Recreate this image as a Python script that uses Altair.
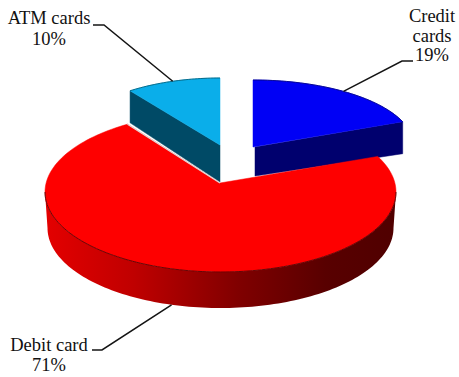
import math
import altair as alt
import pandas as pd

# Payment card shares, clockwise from twelve o'clock
categories = ["Credit cards", "Debit card", "ATM cards"]
shares = [19, 71, 10]
label_lines = [["Credit", "cards"], ["Debit card"], ["ATM cards"]]

# Drawing settings for each exploded slice: ellipse of the top face, apex, wall depths
SLICES = {
    "Credit cards": dict(cx=253, cy=146, a=161, b=66, apex=(253, 147), depth=32, apex_depth=29,
                         top="#0000f5", wall="#00006e", edge="#00008a"),
    "Debit card": dict(cx=220.5, cy=192, a=175.5, b=80, apex=(220, 183), depth=36, apex_depth=36,
                       top="#fe0000", wall="#800000", edge="#400000"),
    "ATM cards": dict(cx=220, cy=145, a=153, b=67, apex=(220, 145), depth=32, apex_depth=37,
                      top="#0aaeea", wall="#004a66", edge="#00627f"),
}
# Red wall shading, left to right along the front of the pie
WALL_STOPS = [(0.0, "#e40000"), (0.25, "#c00000"), (0.55, "#800000"), (0.8, "#580000"), (1.0, "#500000")]
# Label block placement: centre x, first baseline, line height, leader elbow points
LABEL_POS = {
    "Credit cards": dict(x=432, y=22, step=19.5, elbow=[(413, 61), (402, 61)]),
    "Debit card": dict(x=49, y=351, step=19.5, elbow=[(92, 350), (102, 350)]),
    "ATM cards": dict(x=49, y=24, step=21, elbow=[(93, 25), (104, 25)]),
}
FONT = "Liberation Serif"
W, H = 459, 377


def warp(theta):
    """Nudge far-side rim angles of the big slice, as the tilted view does."""
    r = math.radians(theta)
    if math.sin(r) <= 0:
        return theta
    return theta + (7 if math.cos(r) > 0 else 4.2) * math.sin(2 * r)


def rim(s, theta, warped=False, depth=0.0, shrink=0.0):
    t = math.radians(warp(theta) if warped else theta)
    return [s["cx"] + (s["a"] - shrink) * math.cos(t), s["cy"] + depth - s["b"] * math.sin(t)]


def frange(start, end, n):
    return [start + (end - start) * i / n for i in range(n + 1)]


def polygon(points, fill=None):
    ring = [list(p) for p in points] + [list(points[0])]
    return {"type": "Feature", "geometry": {"type": "Polygon", "coordinates": [ring]},
            "properties": {"fill": fill, "stroke": fill}}


def line(points, stroke, width):
    return {"type": "Feature", "geometry": {"type": "LineString", "coordinates": [list(p) for p in points]},
            "properties": {"stroke": stroke, "width": width}}


# Slice angles follow from the shares
angles = {}
start = 90.0
for name, share in zip(categories, shares):
    end = start - share * 3.6
    angles[name] = (start, end)
    start = end

back_faces, front_faces, strokes = [], [], []

# ATM cards: cut wall along the left edge, then the top face
s = SLICES["ATM cards"]
t0, t1 = [t + 360 for t in angles["ATM cards"]]
ax, ay = s["apex"]
back_faces.append(polygon([rim(s, t0), rim(s, t0, depth=s["depth"]), (ax, ay + s["apex_depth"]), (ax, ay)], s["wall"]))
arc = [rim(s, t) for t in frange(t0, t1, 30)]
back_faces.append(polygon([(ax, ay)] + arc, s["top"]))
strokes.append(line(arc, s["edge"], 0.9))

# Credit cards: cut wall along the lower edge, then the top face
s = SLICES["Credit cards"]
t0, t1 = angles["Credit cards"]
ax, ay = s["apex"]
back_faces.append(polygon([(ax + 2, ay), rim(s, t1), rim(s, t1, depth=s["depth"]), (ax + 2, ay + s["apex_depth"])], s["wall"]))
arc = [rim(s, t) for t in frange(t0, t1, 40)]
back_faces.append(polygon([(ax, ay)] + arc, s["top"]))
strokes.append(line(arc, s["edge"], 0.9))

# Debit card: one shaded wall along the front, then the top face
s = SLICES["Debit card"]
t0, t1 = angles["Debit card"]
ax, ay = s["apex"]
sweep = frange(-180, 0, 120)
wall_outline = [rim(s, t) for t in sweep] + [rim(s, t, depth=s["depth"], shrink=2.5) for t in reversed(sweep)]
arc = [rim(s, t, warped=True) for t in frange(t0, t1, 160)]
front_faces.append(polygon([(ax, ay)] + arc, s["top"]))
strokes.append(line([rim(s, t) for t in sweep], s["edge"], 0.8))
strokes.append(line([(ax, ay), arc[-1]], "#e4d8d8", 1.2))

# Leader lines run from each slice's mid angle on the outer edge to its label
for name in categories:
    s = SLICES[name]
    t0, t1 = angles[name]
    mid = (t0 + t1) / 2
    d = s["depth"] if math.sin(math.radians(mid)) < 0 else 0
    strokes.append(line([rim(s, mid, depth=d)] + LABEL_POS[name]["elbow"][::-1], "#141414", 1.5))

# One text row per label line, the last row stating the share
rows = []
for name, share, lines in zip(categories, shares, label_lines):
    pos = LABEL_POS[name]
    for i, txt in enumerate(lines + [f"{share}%"]):
        rows.append({"x": pos["x"], "y": pos["y"] + i * pos["step"], "text": txt})

identity = dict(type="identity", scale=1, translate=[0, 0])


def face_layer(features):
    return alt.Chart(alt.Data(values=features)).mark_geoshape(strokeWidth=0.5).encode(
        fill=alt.Fill("properties.fill:N", scale=None),
        stroke=alt.Stroke("properties.stroke:N", scale=None),
    ).project(**identity)


wall_layer = alt.Chart(alt.Data(values=[polygon(wall_outline)])).mark_geoshape(
    fill=alt.Gradient(
        gradient="linear", x1=0, x2=1, y1=0, y2=0,
        stops=[alt.GradientStop(offset=o, color=c) for o, c in WALL_STOPS],
    ),
    strokeWidth=0,
).project(**identity)

stroke_layer = alt.Chart(alt.Data(values=strokes)).mark_geoshape(filled=False).encode(
    stroke=alt.Stroke("properties.stroke:N", scale=None),
    strokeWidth=alt.StrokeWidth("properties.width:Q", scale=None),
).project(**identity)

text_layer = alt.Chart(pd.DataFrame(rows)).mark_text(
    font=FONT, fontSize=18.5, color="#111111", align="center", baseline="alphabetic"
).encode(
    x=alt.X("x:Q", scale=None, axis=None),
    y=alt.Y("y:Q", scale=None, axis=None),
    text="text:N",
)

chart = alt.layer(face_layer(back_faces), wall_layer, face_layer(front_faces), stroke_layer, text_layer).properties(
    width=W, height=H, padding=0, autosize=alt.AutoSizeParams(type="none"),
    background="white",
).configure_view(stroke=None)

chart.save("out.html", embed_options={"renderer": "svg", "actions": False})
